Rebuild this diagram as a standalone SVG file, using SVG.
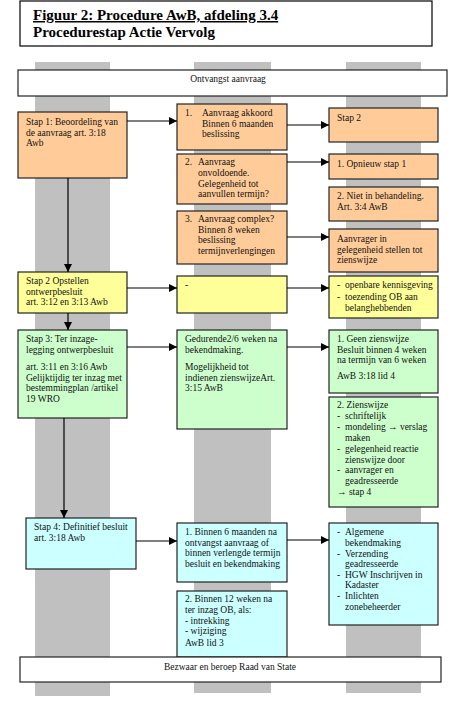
<svg xmlns="http://www.w3.org/2000/svg" width="463" height="708" viewBox="0 0 463 708">
<style>
.t{font-family:"Liberation Serif","Times New Roman",serif;font-size:9.5px;fill:#111}
.ttl{font-family:"Liberation Serif","Times New Roman",serif;font-size:15px;font-weight:bold;fill:#000}
.col{fill:#c0c0c0}
.bx{stroke:#222;stroke-width:1.2}
.o{fill:#ffcc99}.y{fill:#ffff99}.g{fill:#ccffcc}.c{fill:#ccffff}.w{fill:#fff}
.cn{stroke:#000;stroke-width:1.2;fill:none;marker-end:url(#ah)}
</style>
<defs>
<marker id="ah" markerUnits="userSpaceOnUse" markerWidth="8" markerHeight="8" refX="8" refY="4" orient="auto">
<path d="M0,0 L8,4 L0,8 z" fill="#000"/>
</marker>
</defs>
<rect width="463" height="708" fill="#fff"/>
<g id="title">
<rect x="20" y="1" width="412" height="45" fill="#fff" stroke="#000" stroke-width="1.2"/>
<text class="ttl" x="33" y="20" text-decoration="underline">Figuur 2: Procedure AwB, afdeling 3.4</text>
<text class="ttl" x="33" y="37">Procedurestap Actie Vervolg</text>
</g>
<g id="columns">
<rect class="col" x="35" y="62" width="75" height="634"/>
<rect class="col" x="194" y="62" width="77" height="631"/>
<rect class="col" x="346" y="62" width="75" height="631"/>
</g>
<g id="ontvangst">
<rect class="bx w" x="18" y="70" width="429" height="26"/>
<text class="t" x="228" y="82" text-anchor="middle">Ontvangst aanvraag</text>
</g>
<g id="stap1">
<rect class="bx o" x="18" y="112" width="109" height="66"/>
<text class="t" x="26" y="125">Stap 1: Beoordeling van<tspan x="26" dy="10.5">de aanvraag art. 3:18</tspan><tspan x="26" dy="10.5">Awb</tspan></text>
</g>
<g id="akkoord">
<rect class="bx o" x="177" y="104" width="110" height="46"/>
<text class="t" x="185" y="116">1.</text>
<text class="t" x="202" y="116">Aanvraag akkoord<tspan x="202" dy="10.5">Binnen 6 maanden</tspan><tspan x="202" dy="10.5">beslissing</tspan></text>
</g>
<g id="onvoldoende">
<rect class="bx o" x="177" y="154" width="110" height="50"/>
<text class="t" x="185" y="165">2.</text>
<text class="t" x="198" y="165">Aanvraag<tspan x="198" dy="10.8">onvoldoende.</tspan><tspan x="198" dy="10.8">Gelegenheid tot</tspan><tspan x="198" dy="10.8">aanvullen termijn?</tspan></text>
</g>
<g id="complex">
<rect class="bx o" x="177" y="211" width="110" height="53"/>
<text class="t" x="185" y="222">3.</text>
<text class="t" x="198" y="222">Aanvraag complex?<tspan x="198" dy="10.7">Binnen 8 weken</tspan><tspan x="198" dy="10.7">beslissing</tspan><tspan x="198" dy="10.7">termijnverlengingen</tspan></text>
</g>
<g id="stap2vervolg">
<rect class="bx o" x="329" y="108" width="109" height="34"/>
<text class="t" x="337" y="121">Stap 2</text>
</g>
<g id="opnieuw">
<rect class="bx o" x="329" y="154" width="109" height="25"/>
<text class="t" x="337" y="167">1. Opnieuw stap 1</text>
</g>
<g id="nietinbehandeling">
<rect class="bx o" x="329" y="187" width="109" height="34"/>
<text class="t" x="337" y="199">2. Niet in behandeling.<tspan x="337" dy="10.8">Art. 3:4 AwB</tspan></text>
</g>
<g id="aanvrager">
<rect class="bx o" x="329" y="229" width="109" height="43"/>
<text class="t" x="337" y="242">Aanvrager in<tspan x="337" dy="10.5">gelegenheid stellen  tot</tspan><tspan x="337" dy="10.5">zienswijze</tspan></text>
</g>
<g id="stap2">
<rect class="bx y" x="18" y="272" width="109" height="41"/>
<text class="t" x="26" y="284">Stap 2 Opstellen<tspan x="26" dy="10.5">ontwerpbesluit</tspan><tspan x="26" dy="10.8">art. 3:12 en 3:13 Awb</tspan></text>
</g>
<g id="streep">
<rect class="bx y" x="177" y="276" width="110" height="37"/>
<text class="t" x="185" y="288">-</text>
</g>
<g id="kennisgeving">
<rect class="bx y" x="329" y="276" width="109" height="42"/>
<text class="t" x="337" y="288">-</text>
<text class="t" x="345" y="288">openbare kennisgeving</text>
<text class="t" x="337" y="300">-</text>
<text class="t" x="345" y="300">toezending OB aan<tspan x="345" dy="10.5">belanghebbenden</tspan></text>
</g>
<g id="stap3">
<rect class="bx g" x="18" y="330" width="109" height="88"/>
<text class="t" x="26" y="342">Stap 3: Ter inzage-<tspan x="26" dy="10.5">legging ontwerpbesluit</tspan><tspan x="26" dy="17.5">art. 3:11 en 3:16 Awb</tspan><tspan x="26" dy="10.6">Gelijktijdig ter inzag met</tspan><tspan x="26" dy="10.6">bestemmingplan /artikel</tspan><tspan x="26" dy="10.6">19 WRO</tspan></text>
</g>
<g id="gedurende">
<rect class="bx g" x="177" y="330" width="110" height="99"/>
<text class="t" x="185" y="342">Gedurende2/6 weken na<tspan x="185" dy="10.5">bekendmaking.</tspan><tspan x="185" dy="17.5">Mogelijkheid tot</tspan><tspan x="185" dy="10.6">indienen zienswijzeArt.</tspan><tspan x="185" dy="10.6">3:15 AwB</tspan></text>
</g>
<g id="geenzienswijze">
<rect class="bx g" x="329" y="330" width="109" height="63"/>
<text class="t" x="337" y="342">1. Geen zienswijze<tspan x="337" dy="10.5">Besluit binnen 4 weken</tspan><tspan x="337" dy="10.8">na termijn van 6 weken</tspan><tspan x="337" dy="16">AwB 3:18 lid 4</tspan></text>
</g>
<g id="zienswijze">
<rect class="bx g" x="329" y="397" width="109" height="110"/>
<text class="t" x="337" y="408">2. Zienswijze</text>
<text class="t" x="337" y="419">-<tspan x="337" dy="11">-</tspan><tspan x="337" dy="22">-</tspan><tspan x="337" dy="21">-</tspan></text>
<text class="t" x="345" y="419">schriftelijk<tspan x="345" dy="11">mondeling → verslag</tspan><tspan x="345" dy="11">maken</tspan><tspan x="345" dy="11">gelegenheid reactie</tspan><tspan x="345" dy="10.5">zienswijze door</tspan><tspan x="345" dy="10.5">aanvrager en</tspan><tspan x="345" dy="10.5">geadresseerde</tspan></text>
<text class="t" x="337" y="495">→ stap 4</text>
</g>
<g id="stap4">
<rect class="bx c" x="26" y="518" width="110" height="51"/>
<text class="t" x="34" y="530">Stap 4: Definitief besluit<tspan x="34" dy="10.8">art. 3:18 Awb</tspan></text>
</g>
<g id="binnen6">
<rect class="bx c" x="177" y="523" width="110" height="59"/>
<text class="t" x="185" y="535">1. Binnen 6 maanden na<tspan x="185" dy="10.6">ontvangst aanvraag of</tspan><tspan x="185" dy="10.6">binnen verlengde termijn</tspan><tspan x="185" dy="10.6">besluit en bekendmaking</tspan></text>
</g>
<g id="binnen12">
<rect class="bx c" x="177" y="591" width="110" height="66"/>
<text class="t" x="185" y="602">2. Binnen 12 weken na<tspan x="185" dy="10.5">ter inzag OB, als:</tspan><tspan x="185" dy="11">-  intrekking</tspan><tspan x="185" dy="10.5">-  wijziging</tspan><tspan x="185" dy="11.5">AwB lid 3</tspan></text>
</g>
<g id="bekendmaking">
<rect class="bx c" x="329" y="523" width="109" height="102"/>
<text class="t" x="337" y="535">-<tspan x="337" dy="21.5">-</tspan><tspan x="337" dy="21">-</tspan><tspan x="337" dy="21">-</tspan></text>
<text class="t" x="345" y="535">Algemene<tspan x="345" dy="10.8">bekendmaking</tspan><tspan x="345" dy="10.7">Verzending</tspan><tspan x="345" dy="10.5">geadresseerde</tspan><tspan x="345" dy="10.5">HGW  Inschrijven in</tspan><tspan x="345" dy="10.5">Kadaster</tspan><tspan x="345" dy="11">Inlichten</tspan><tspan x="345" dy="11">zonebeheerder</tspan></text>
</g>
<g id="bezwaar">
<rect class="bx w" x="20" y="657" width="421" height="25"/>
<text class="t" x="230" y="670" text-anchor="middle">Bezwaar en beroep Raad van State</text>
</g>
<g id="connectors">
<line class="cn" x1="127" y1="121" x2="177" y2="121"/>
<line class="cn" x1="287" y1="125" x2="329" y2="125"/>
<line class="cn" x1="287" y1="162" x2="329" y2="162"/>
<line class="cn" x1="287" y1="237" x2="329" y2="237"/>
<line class="cn" x1="68" y1="178" x2="68" y2="272"/>
<line class="cn" x1="127" y1="288" x2="177" y2="288"/>
<line class="cn" x1="287" y1="288" x2="329" y2="288"/>
<line class="cn" x1="68" y1="313" x2="68" y2="330"/>
<line class="cn" x1="127" y1="347" x2="177" y2="347"/>
<line class="cn" x1="287" y1="347" x2="329" y2="347"/>
<line class="cn" x1="64" y1="418" x2="64" y2="518"/>
<line class="cn" x1="136" y1="541" x2="177" y2="541"/>
<line class="cn" x1="287" y1="540" x2="329" y2="540"/>
</g>
</svg>
